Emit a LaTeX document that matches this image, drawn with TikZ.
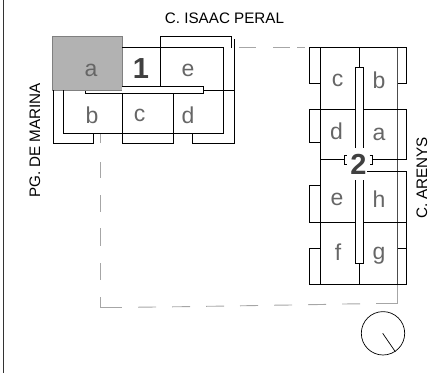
\documentclass[tikz,border=0pt]{standalone}
\usepackage{fontspec}
\setmainfont{Liberation Sans}
\tikzset{
 wall/.style={draw=black,line width=0.8pt,line cap=butt},
 dashline/.style={draw=black!35,line width=0.9pt},
 unit/.style={text=black!60,font=\fontsize{23}{23}\selectfont,inner sep=0pt},
 blocknum/.style={text=black!75,font=\bfseries\fontsize{29}{29}\selectfont,inner sep=0pt},
 street/.style={text=black,font=\fontsize{15.2}{15.2}\selectfont,inner sep=0pt}
}
\begin{document}
\begin{tikzpicture}[x=1pt,y=-1pt]
\useasboundingbox (0,0) rectangle (438,373);
% frame
\draw[draw=black!80,line width=0.9pt] (3.5,0) -- (3.5,373);
% dashed site line
\draw[dashline] (100.5,143) -- (100.5,133);
\draw[dashline] (100.5,162) -- (100.5,178);
\draw[dashline] (100.5,195) -- (100.5,212);
\draw[dashline] (100.5,228) -- (100.5,246);
\draw[dashline] (100.5,263) -- (100.5,280);
\draw[dashline] (100.5,297) -- (100.5,307.7) -- (122,307.7);
\draw[dashline] (138,307.2) -- (156,307);
\draw[dashline] (172,306.8) -- (190,306.6);
\draw[dashline] (206,306.3) -- (224,306.1);
\draw[dashline] (240,305.8) -- (258,305.5);
\draw[dashline] (274,305.2) -- (292,305);
\draw[dashline] (308,304.7) -- (326,304.4);
\draw[dashline] (342,304) -- (360,303.8);
\draw[dashline] (376,303.5) -- (397.8,303.5) -- (397.8,284);
\draw[dashline] (239,47.3) -- (256,47.3);
\draw[dashline] (273,47.3) -- (290,47.3);
\draw[dashline] (297,47.3) -- (305,47.3);
% block 1
\fill[black!30] (52.5,36.5) rectangle (122,90);
\draw[draw=black!50,line width=0.6pt] (52.5,36.5) rectangle (122,90);
\draw[wall] (122,47.5) -- (223.5,47.5) -- (223.5,133) -- (63.5,133) -- (63.5,90);
\draw[wall] (160,90) -- (160,36.5) -- (231.5,36.5) -- (231.5,47.5);
\draw[wall] (234.5,39) -- (234.5,143) -- (192,143) -- (192,133);
\draw[wall] (53,90) -- (53,143) -- (93.5,143) -- (93.5,133);
\draw[wall] (122,90) -- (122,143) -- (173,143) -- (173,94);
\draw[wall] (122,90) -- (203.5,90);
\draw[wall] (203.5,90) -- (234.5,90);
\draw[wall,fill=white] (85.5,86.7) rectangle (203.5,93.7);
\fill[black!30] (85,86) rectangle (122,90);
\draw[draw=black!50,line width=0.6pt] (85,90) -- (122,90);
% block 2
\draw[wall] (320.3,47.3) -- (320.3,284.3);
\draw[draw=black!70,line width=0.9pt] (397.8,47.3) -- (397.8,284.3);
\draw[wall] (320.3,83) -- (309.5,83) -- (309.5,47.3) -- (406.7,47.3) -- (406.7,83) -- (397.8,83);
\draw[wall] (320.3,142.7) -- (309.5,142.7) -- (309.5,109.3) -- (406.7,109.3) -- (406.7,159) -- (372,159);
\draw[wall] (320.3,159) -- (344,159);
\draw[wall] (346.5,155) -- (344,155) -- (344,164) -- (346.5,164);
\draw[wall] (369.5,155) -- (372,155) -- (372,164) -- (369.5,164);
\draw[wall] (367,171.8) -- (406.7,171.8) -- (406.7,284.3) -- (309.5,284.3) -- (309.5,248.5) -- (320.3,248.5);
\draw[wall] (397.8,248.5) -- (406.7,248.5);
\draw[wall] (320.3,185.7) -- (309.5,185.7) -- (309.5,222.3) -- (406.7,222.3);
\draw[wall] (359.3,47.3) -- (359.3,67.7);
\draw[wall] (359.3,263.7) -- (359.3,284.3);
\draw[wall,fill=white] (355.5,148) -- (355.5,67.7) -- (363,67.7) -- (363,148);
\draw[wall,fill=white] (355.5,180) -- (355.5,263.7) -- (363,263.7) -- (363,180);
% north mark
\draw[line width=0.7pt] (383,333.3) circle (21.7);
\draw[line width=0.7pt] (382.7,333.3) -- (395.3,351.7);
% labels
\node[street] (t1) at (224.5,18) {C. ISAAC PERAL};
\node[street,rotate=90] (t2) at (35,140.5) {PG. DE MARINA};
\node[street,rotate=90] (t3) at (422,178) {C. ARENYS};
\node[unit] (a1) at (91,70) {a};
\node[blocknum] (n1) at (141,69) {1};
\node[unit] (e1) at (188,70) {e};
\node[unit] (b1) at (92,115) {b};
\node[unit] (c1) at (139.5,115) {c};
\node[unit] (d1) at (188,115.5) {d};
\node[unit] (c2) at (337.5,80) {c};
\node[unit] (b2) at (379,80) {b};
\node[unit] (d2) at (336.5,131) {d};
\node[unit] (a2) at (379,134) {a};
\node[blocknum] (n2) at (358.5,164) {2};
\node[unit] (e2) at (337,199) {e};
\node[unit] (h2) at (379,199) {h};
\node[unit] (f2) at (338,252.5) {f};
\node[unit] (g2) at (379,256) {g};
\end{tikzpicture}
\end{document}
